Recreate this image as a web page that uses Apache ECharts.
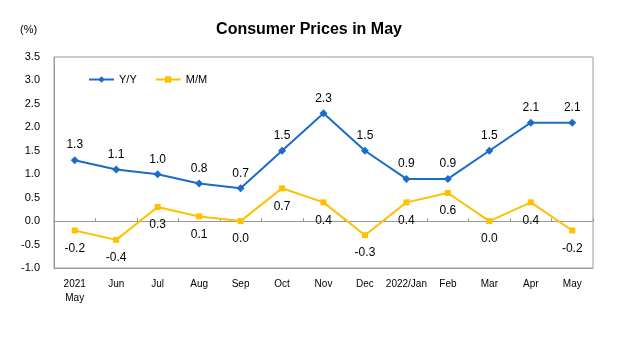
<!DOCTYPE html>
<html>
<head>
<meta charset="utf-8">
<script src="https://cdn.jsdelivr.net/npm/echarts@6/dist/echarts.min.js"></script>
<style>
  html, body { margin: 0; padding: 0; background: #fff; }
  #chart { width: 618px; height: 339px; }
</style>
</head>
<body>
<div id="chart"></div>
<script>
// Month labels (first and "2022/Jan" carry the year)
const months = ['2021\nMay', 'Jun', 'Jul', 'Aug', 'Sep', 'Oct', 'Nov', 'Dec', '2022/Jan', 'Feb', 'Mar', 'Apr', 'May'];
// Year-on-year change, %
const yoy = [1.3, 1.1, 1.0, 0.8, 0.7, 1.5, 2.3, 1.5, 0.9, 0.9, 1.5, 2.1, 2.1];
// Month-on-month change, %
const mom = [-0.2, -0.4, 0.3, 0.1, 0.0, 0.7, 0.4, -0.3, 0.4, 0.6, 0.0, 0.4, -0.2];

const FONT = 'Arial, "Liberation Sans", sans-serif';
const chart = echarts.init(document.getElementById('chart'), null, { renderer: 'canvas' });

chart.setOption({
  animation: false,
  title: {
    text: 'Consumer Prices in May',
    left: 'center',
    top: 17,
    textStyle: { fontFamily: FONT, fontSize: 16, fontWeight: 'bold', color: '#000' }
  },
  graphic: [{
    type: 'text',
    left: 20,
    top: 24,
    style: { text: '(%)', font: '11px ' + FONT, fill: '#000' }
  }],
  legend: {
    left: 83,
    top: 69,
    itemWidth: 25,
    itemHeight: 8,
    itemGap: 18,
    textStyle: { fontFamily: FONT, fontSize: 11, color: '#000' },
    data: ['Y/Y', 'M/M']
  },
  grid: {
    left: 54, right: 25, top: 57, bottom: 71,
    show: true, borderColor: '#9a9a9a', borderWidth: 1
  },
  xAxis: [{
    type: 'category',
    data: months,
    position: 'bottom',
    axisLine: { onZero: false, lineStyle: { color: '#9a9a9a' } },
    axisTick: { show: false },
    axisLabel: { margin: 9, fontFamily: FONT, fontSize: 10, color: '#000', lineHeight: 14, interval: 0 },
    splitLine: { show: false }
  }, {
    type: 'category',
    data: months,
    position: 'bottom',
    axisLine: { onZero: true, lineStyle: { color: '#9a9a9a' } },
    axisTick: { show: true, inside: true, length: 3, interval: 0, lineStyle: { color: '#9a9a9a' } },
    axisLabel: { show: false },
    splitLine: { show: false }
  }],
  yAxis: {
    type: 'value',
    min: -1, max: 3.5, interval: 0.5,
    axisLine: { show: true, lineStyle: { color: '#9a9a9a' } },
    axisTick: { show: false },
    splitLine: { show: false },
    axisLabel: {
      margin: 14,
      fontFamily: FONT, fontSize: 11, color: '#000',
      formatter: v => v.toFixed(1)
    }
  },
  series: [{
    name: 'Y/Y',
    type: 'line',
    data: yoy,
    xAxisIndex: 0,
    symbol: 'diamond',
    symbolSize: 8,
    lineStyle: { color: '#1a6cc8', width: 2 },
    itemStyle: { color: '#1a6cc8' },
    label: {
      show: true, position: 'top', distance: 5,
      fontFamily: FONT, fontSize: 12, color: '#000',
      formatter: p => p.value.toFixed(1)
    }
  }, {
    name: 'M/M',
    type: 'line',
    data: mom,
    xAxisIndex: 0,
    symbol: 'rect',
    symbolSize: 6,
    lineStyle: { color: '#ffc000', width: 2 },
    itemStyle: { color: '#ffc000' },
    label: {
      show: true, position: 'bottom', distance: 9,
      fontFamily: FONT, fontSize: 12, color: '#000',
      formatter: p => p.value.toFixed(1)
    }
  }]
});
</script>
</body>
</html>
